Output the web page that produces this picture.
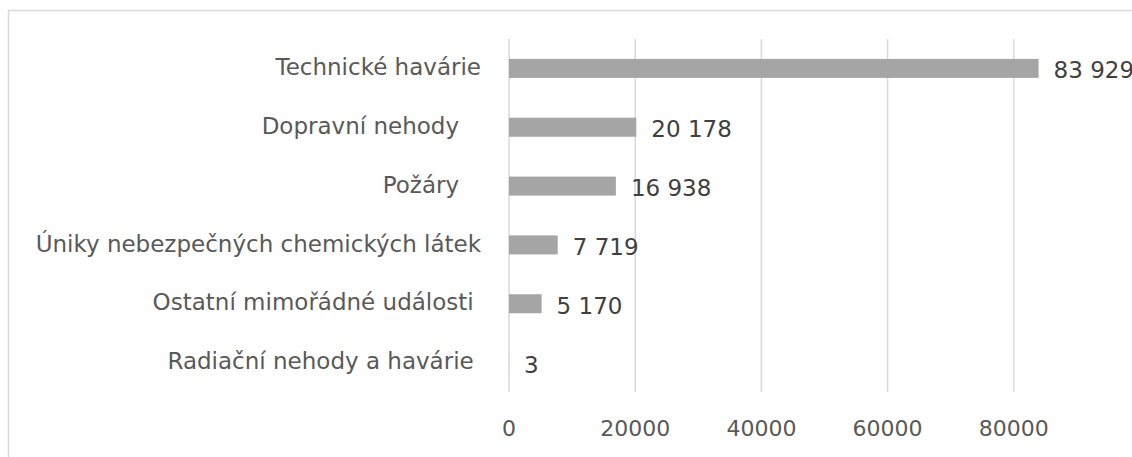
<!DOCTYPE html>
<html>
<head>
<meta charset="utf-8">
<script src="https://cdn.jsdelivr.net/npm/d3@7"></script>
<style>
  body { margin: 0; background: #fff; }
  svg text { font-family: "DejaVu Sans", sans-serif; white-space: pre; }
  .cat-label { fill: #595959; font-size: 23px; }
  .val-label { fill: #404040; font-size: 23px; }
  .tick-label { fill: #595959; font-size: 22px; }
  .grid { stroke: #d9d9d9; stroke-width: 1.5; }
</style>
</head>
<body>
<div id="chart"></div>
<script>
// categories top to bottom (trailing spaces as in the source labels)
var categories = [
  "Technické havárie",
  "Dopravní nehody   ",
  "Požáry   ",
  "Úniky nebezpečných chemických látek",
  "Ostatní mimořádné události ",
  "Radiační nehody a havárie "
];
var values = [83929, 20178, 16938, 7719, 5170, 3];
var xTicks = [0, 20000, 40000, 60000, 80000];

var width = 1132,
  height = 457;

var margins = { top: 39, bottom: 65, left: 509, right: 0 };

var svg = d3
  .select("#chart")
  .append("svg")
  .attr("width", width)
  .attr("height", height);

// chart frame (cut off at right and bottom like the source)
svg
  .append("rect")
  .attr("x", 8.5)
  .attr("y", 10.5)
  .attr("width", 1300)
  .attr("height", 600)
  .attr("fill", "none")
  .attr("stroke", "#d9d9d9")
  .attr("stroke-width", 1.5);

var x = d3
  .scaleLinear()
  .domain([0, 20000])
  .range([margins.left, margins.left + 126.2]);

var y = d3
  .scaleBand()
  .domain(categories)
  .range([margins.top, height - margins.bottom])
  .paddingInner(0.677)
  .paddingOuter(0.3385);

var fmt = d3.formatLocale({
  decimal: ",",
  thousands: " ",
  grouping: [3],
  currency: ["", " Kč"]
}).format(",d");

// vertical grid lines
svg
  .selectAll(".grid")
  .data(xTicks)
  .enter()
  .append("line")
  .attr("class", "grid")
  .attr("x1", (d) => x(d))
  .attr("x2", (d) => x(d))
  .attr("y1", y.range()[0])
  .attr("y2", y.range()[1]);

// tick labels
svg
  .selectAll(".tick-label")
  .data(xTicks)
  .enter()
  .append("text")
  .attr("class", "tick-label")
  .attr("x", (d) => x(d))
  .attr("y", 435.5)
  .attr("text-anchor", "middle")
  .text((d) => d);

// bars
svg
  .selectAll(".bar")
  .data(values)
  .enter()
  .append("rect")
  .attr("class", "bar")
  .attr("x", x(0))
  .attr("y", (d, i) => y(categories[i]))
  .attr("width", (d) => x(d) - x(0))
  .attr("height", y.bandwidth())
  .attr("fill", "#a5a5a5");

// category labels
svg
  .selectAll(".cat-label")
  .data(categories)
  .enter()
  .append("text")
  .attr("class", "cat-label")
  .attr("x", x(0) - 28)
  .attr("y", (d) => y(d) + y.bandwidth() / 2 + 6.7)
  .attr("text-anchor", "end")
  .text((d) => d);

// value labels
svg
  .selectAll(".val-label")
  .data(values)
  .enter()
  .append("text")
  .attr("class", "val-label")
  .attr("x", (d) => x(d) + 15)
  .attr("y", (d, i) => y(categories[i]) + y.bandwidth() / 2 + 10)
  .text((d) => fmt(d));
</script>
</body>
</html>
